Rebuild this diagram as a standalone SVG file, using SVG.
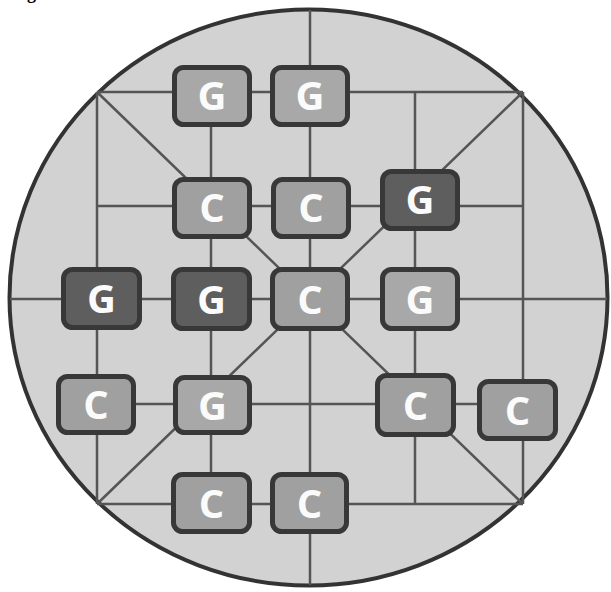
<svg xmlns="http://www.w3.org/2000/svg" width="611" height="592" viewBox="0 0 611 592">
<style>
.bg{fill:#d2d2d2;stroke:#333;stroke-width:4}
.ln{stroke:#555;stroke-width:2.5;fill:none}
.n rect{stroke:#383838;stroke-width:5}
.c rect{fill:#a0a0a0}
.gl rect{fill:#a8a8a8}
.gd rect{fill:#5e5e5e}
.n text{font-family:"Open Sans","DejaVu Sans",sans-serif;font-weight:bold;font-size:40px;fill:#fbfbfb;text-anchor:middle}
</style>
<rect width="611" height="592" fill="#fff"/>
<text x="27" y="-1" font-family="Liberation Serif, serif" font-size="18" font-weight="bold">g</text>
<ellipse class="bg" cx="308.5" cy="297.5" rx="299" ry="288"/>
<g id="connectors" class="ln">
<line x1="97" y1="92" x2="523" y2="504"/>
<line x1="523" y1="92" x2="97" y2="504"/>
<line x1="97" y1="92" x2="523" y2="92"/>
<line x1="97" y1="206" x2="523" y2="206"/>
<line x1="10" y1="299" x2="607" y2="299"/>
<line x1="96" y1="404" x2="517" y2="404"/>
<line x1="97" y1="504" x2="523" y2="504"/>
<line x1="97" y1="92" x2="97" y2="504"/>
<line x1="211" y1="95" x2="211" y2="503"/>
<line x1="310" y1="10" x2="310" y2="585"/>
<line x1="415" y1="92" x2="415" y2="504"/>
<line x1="523" y1="92" x2="523" y2="504"/>
</g>
<g id="n1" class="n gl"><rect x="174.5" y="67.5" width="75" height="57" rx="9"/><text x="212" y="110">G</text></g>
<g id="n2" class="n gl"><rect x="272.5" y="67.5" width="75" height="57" rx="9"/><text x="310" y="110">G</text></g>
<g id="n3" class="n c"><rect x="174.5" y="179.5" width="75" height="57" rx="9"/><text x="212" y="222">C</text></g>
<g id="n4" class="n c"><rect x="273.5" y="179.5" width="75" height="57" rx="9"/><text x="311" y="222">C</text></g>
<g id="n5" class="n gd"><rect x="382.5" y="171.5" width="75" height="57" rx="9"/><text x="420" y="214">G</text></g>
<g id="n6" class="n gd"><rect x="63.5" y="269.5" width="76" height="58" rx="9"/><text x="101.5" y="313">G</text></g>
<g id="n7" class="n gd"><rect x="173.5" y="269.5" width="76" height="59" rx="9"/><text x="211.5" y="314">G</text></g>
<g id="n8" class="n c"><rect x="272.5" y="269.5" width="75" height="59" rx="9"/><text x="310" y="314">C</text></g>
<g id="n9" class="n gl"><rect x="382.5" y="269.5" width="75" height="59" rx="9"/><text x="420" y="314">G</text></g>
<g id="n10" class="n c"><rect x="58.5" y="376.5" width="75" height="56" rx="9"/><text x="96" y="419">C</text></g>
<g id="n11" class="n gl"><rect x="175.5" y="377.5" width="74" height="55" rx="9"/><text x="212.5" y="420">G</text></g>
<g id="n12" class="n c"><rect x="377.5" y="375.5" width="76" height="59" rx="9"/><text x="415.5" y="420">C</text></g>
<g id="n13" class="n c"><rect x="479.5" y="381.5" width="76" height="57" rx="9"/><text x="517.5" y="425">C</text></g>
<g id="n14" class="n c"><rect x="173.5" y="474.5" width="76" height="57" rx="9"/><text x="211.5" y="518">C</text></g>
<g id="n15" class="n c"><rect x="272.5" y="474.5" width="74" height="57" rx="9"/><text x="309.5" y="518">C</text></g>
</svg>
